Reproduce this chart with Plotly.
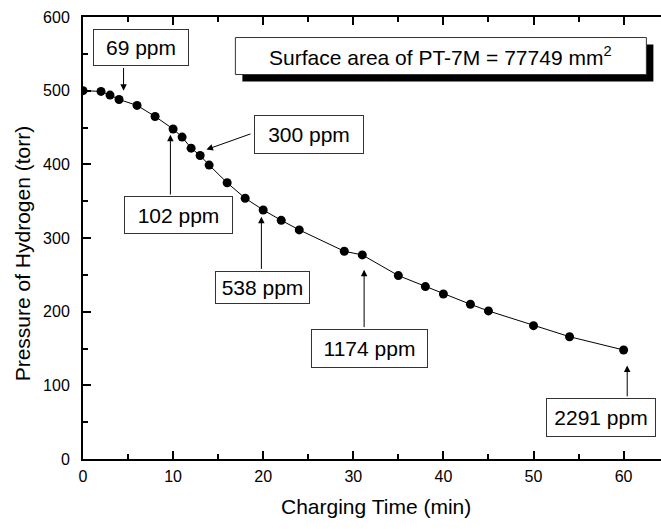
import plotly.graph_objects as go

# Measured data
time_min = [0, 2, 3, 4, 6, 8, 10, 11, 12, 13, 14, 16, 18, 20, 22, 24,
            29, 31, 35, 38, 40, 43, 45, 50, 54, 60]
pressure_torr = [500, 499, 494, 488, 480, 465, 448, 437, 422, 412, 399, 375, 354, 338, 324, 311,
                 282, 277, 249, 234, 224, 210, 201, 181, 166, 148]

# Hydrogen content callouts: label, arrow tip, arrow tail, box centre, box size (px)
labels = ["69 ppm", "102 ppm", "300 ppm", "538 ppm", "1174 ppm", "2291 ppm"]
tip_x = [4.5, 9.7, 13.7, 19.8, 31.2, 60.4]
tip_y = [500, 440, 420, 329, 257, 127]
tail_x = [4.5, 9.7, 18.75, 19.8, 31.2, 60.4]
tail_y = [533, 357, 442, 256, 177, 83]
box_x = [6.44, 10.59, 25.08, 19.89, 31.82, 57.5]
box_y = [558, 331, 440, 233, 150, 56]
box_w = [96, 109, 110, 95, 117, 110]
box_h = [37, 38, 39, 33, 39, 39]

note_text = "Surface area of PT-7M = 77749 mm<sup>2</sup>"
note_x, note_y, note_w, note_h = 39.72, 547, 411, 37

FONT = "Liberation Sans, Arial, sans-serif"
X_RANGE = [0, 64.15]
Y_RANGE = [0, 600]
PLOT_W, PLOT_H = 578, 442

fig = go.Figure()
fig.add_trace(
    go.Scatter(
        x=time_min,
        y=pressure_torr,
        mode="lines+markers",
        line=dict(color="black", width=1),
        marker=dict(color="black", size=9),
        showlegend=False,
    )
)

annotations = []
for i, lab in enumerate(labels):
    # Arrow from the box edge to the curve
    annotations.append(dict(
        x=tip_x[i], y=tip_y[i], ax=tail_x[i], ay=tail_y[i],
        xref="x", yref="y", axref="x", ayref="y",
        text="", showarrow=True, arrowhead=2, arrowsize=1.3, arrowwidth=1,
        arrowcolor="black",
    ))
    # Text box
    annotations.append(dict(
        x=box_x[i], y=box_y[i], xref="x", yref="y",
        text=lab, showarrow=False,
        font=dict(family=FONT, size=21, color="black"),
        width=box_w[i] - 2, height=box_h[i] - 2,
        bgcolor="white", bordercolor="#333333", borderwidth=1, borderpad=0,
        align="center", valign="middle",
    ))

# Note text (its box and shadow are drawn as shapes below)
annotations.append(dict(
    x=note_x, y=note_y, xref="x", yref="y",
    text=note_text, showarrow=False,
    font=dict(family=FONT, size=21, color="black"),
))

# Axis titles
annotations.append(dict(
    x=32.5, y=-0.108, xref="x", yref="paper", text="Charging Time (min)",
    showarrow=False, font=dict(family=FONT, size=21, color="black"),
    xanchor="center", yanchor="middle",
))
annotations.append(dict(
    x=-0.104, y=0.465, xref="paper", yref="paper", text="Pressure of Hydrogen (torr)",
    showarrow=False, textangle=-90, font=dict(family=FONT, size=21, color="black"),
    xanchor="center", yanchor="middle",
))

# Note box with a drop shadow offset 7 px right and down
px_x = (X_RANGE[1] - X_RANGE[0]) / PLOT_W
px_y = (Y_RANGE[1] - Y_RANGE[0]) / PLOT_H
shadow_off = 7
hw = note_w / 2 * px_x
hh = note_h / 2 * px_y
sx = shadow_off * px_x
sy = shadow_off * px_y
shapes = [
    dict(
        type="rect", xref="x", yref="y",
        x0=note_x - hw + sx, x1=note_x + hw + sx,
        y0=note_y - hh - sy, y1=note_y + hh - sy,
        fillcolor="black", line=dict(width=0), layer="above",
    ),
    dict(
        type="rect", xref="x", yref="y",
        x0=note_x - hw, x1=note_x + hw,
        y0=note_y - hh, y1=note_y + hh,
        fillcolor="white", line=dict(color="#333333", width=1), layer="above",
    ),
]

fig.update_layout(
    width=661,
    height=529,
    margin=dict(l=83, r=0, t=17, b=70),
    paper_bgcolor="white",
    plot_bgcolor="white",
    font=dict(family=FONT, size=16, color="black"),
    annotations=annotations,
    shapes=shapes,
    xaxis=dict(
        range=X_RANGE, dtick=10, tick0=0,
        showgrid=False, zeroline=False,
        showline=True, linecolor="black", linewidth=2, mirror="ticks",
        ticks="inside", ticklen=8, tickwidth=1.5, tickcolor="black",
        minor=dict(ticks="inside", ticklen=5, tickwidth=1.5, dtick=5, tickcolor="black"),
        tickfont=dict(family=FONT, size=16), ticklabelstandoff=2,
    ),
    yaxis=dict(
        range=Y_RANGE, dtick=100, tick0=0,
        showgrid=False, zeroline=False,
        showline=True, linecolor="black", linewidth=2, mirror=False,
        ticks="inside", ticklen=8, tickwidth=1.5, tickcolor="black",
        minor=dict(ticks="inside", ticklen=5, tickwidth=1.5, dtick=50, tickcolor="black"),
        tickfont=dict(family=FONT, size=16), ticklabelstandoff=8,
    ),
)

# Page body margin would shift the figure inside the window
fig.write_html(
    "out.html",
    config={"displayModeBar": False},
    post_script="document.body.style.margin='0';",
)
